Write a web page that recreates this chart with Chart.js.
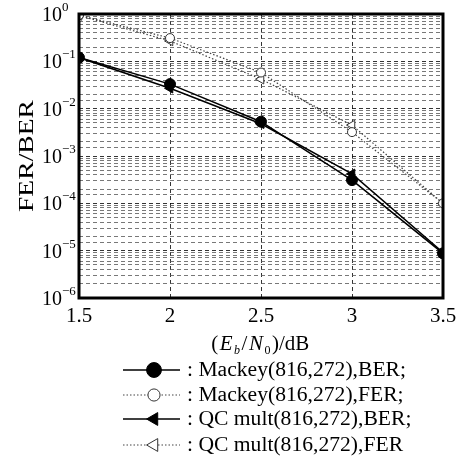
<!DOCTYPE html>
<html>
<head>
<meta charset="utf-8">
<script src="https://cdn.jsdelivr.net/npm/chart.js@4.4.0/dist/chart.umd.min.js"></script>
<style>
  html, body { margin: 0; padding: 0; background: #fff; }
  #wrap { width: 465px; height: 466px; }
</style>
</head>
<body>
<div id="wrap"><canvas id="mainChart" width="465" height="466"></canvas></div>
<script>
// Eb/N0 in dB
const snr = [1.5, 2, 2.5, 3, 3.5];
const mackeyBer = [0.12, 0.033, 0.0053, 0.00031, 0.0000088];
const mackeyFer = [0.95, 0.31, 0.058, 0.0032, 0.0001];
const qcBer = [0.12, 0.027, 0.0048, 0.00042, 0.0000092];
const qcFer = [0.93, 0.27, 0.042, 0.0045, 0.0001];
const seriesNames = [': Mackey(816,272),BER;', ': Mackey(816,272),FER;', ': QC mult(816,272),BER;', ': QC mult(816,272),FER'];
const xTicks = [1.5, 2, 2.5, 3, 3.5];
const yExponents = [0, -1, -2, -3, -4, -5, -6];

const serif = '"Liberation Serif", "DejaVu Serif", serif';

function pts(ys) {
    return snr.map((x, i) => ({x: x, y: ys[i]}));
}

const datasets = [
    {label: seriesNames[0], data: pts(mackeyBer), borderColor: '#000', borderWidth: 1.5,
        pointStyle: 'circle', pointRadius: 5.5, pointBackgroundColor: '#000', pointBorderColor: '#000', pointBorderWidth: 1},
    {label: seriesNames[1], data: pts(mackeyFer), borderColor: '#444', borderWidth: 1.2, borderDash: [1.5, 2],
        pointStyle: 'circle', pointRadius: 4.5, pointBackgroundColor: '#fff', pointBorderColor: '#333', pointBorderWidth: 1},
    {label: seriesNames[2], data: pts(qcBer), borderColor: '#000', borderWidth: 1.5,
        pointStyle: 'triangle', pointRotation: -90, pointRadius: 5.5, pointBackgroundColor: '#000', pointBorderColor: '#000', pointBorderWidth: 1},
    {label: seriesNames[3], data: pts(qcFer), borderColor: '#444', borderWidth: 1.2, borderDash: [1.5, 2],
        pointStyle: 'triangle', pointRotation: -90, pointRadius: 5.5, pointBackgroundColor: '#fff', pointBorderColor: '#333', pointBorderWidth: 1}
];

// text stretched along its baseline, like the scanned figure
function wideText(ctx, text, x, y, sx) {
    ctx.save();
    ctx.translate(x, y);
    ctx.scale(sx, 1);
    ctx.fillText(text, 0, 0);
    ctx.restore();
}

// frame, y labels with superscripts, axis titles and the legend
const decorations = {
    id: 'decorations',
    afterDraw(chart) {
        const ctx = chart.ctx;
        const a = chart.chartArea;
        const yScale = chart.scales.y;
        ctx.save();
        ctx.strokeStyle = '#000';
        ctx.lineWidth = 3;
        ctx.setLineDash([]);
        ctx.strokeRect(a.left, a.top, a.right - a.left, a.bottom - a.top);

        // y tick labels 10^n
        ctx.fillStyle = '#000';
        ctx.textBaseline = 'alphabetic';
        ctx.textAlign = 'left';
        yExponents.forEach(e => {
            const py = yScale.getPixelForValue(Math.pow(10, e));
            const exp = e === 0 ? '0' : '\u2212' + (-e);
            ctx.font = '20px ' + serif;
            ctx.fillText('10', 42, py + 7);
            ctx.font = '13px ' + serif;
            ctx.fillText(exp, 62, py - 3);
        });

        // y title
        ctx.save();
        ctx.translate(27, (a.top + a.bottom) / 2);
        ctx.rotate(-Math.PI / 2);
        ctx.font = '21px ' + serif;
        ctx.textBaseline = 'middle';
        const tw = ctx.measureText('FER/BER').width;
        const ts = 112 / tw;
        wideText(ctx, 'FER/BER', -tw * ts / 2, 0, ts);
        ctx.restore();

        // x title (E_b/N_0)/dB
        const parts = [
            ['(', '21px ' + serif, 0], ['E', 'italic 21px ' + serif, 0], ['b', 'italic 12px ' + serif, 4],
            ['/', '21px ' + serif, 0], ['N', 'italic 21px ' + serif, 0], ['0', '12px ' + serif, 4],
            [')/dB', '21px ' + serif, 0]
        ];
        let total = 0;
        parts.forEach(p => { ctx.font = p[1]; total += ctx.measureText(p[0]).width + 1.5; });
        let px = (a.left + a.right) / 2 - total / 2;
        const baseY = 350;
        ctx.textAlign = 'left';
        ctx.textBaseline = 'alphabetic';
        parts.forEach(p => {
            ctx.font = p[1];
            ctx.fillText(p[0], px, baseY + p[2]);
            px += ctx.measureText(p[0]).width + 1.5;
        });

        // legend
        const rowY = [370, 395, 419, 445];
        ctx.font = '20px ' + serif;
        const ls = 219 / ctx.measureText(seriesNames[0]).width;
        chart.data.datasets.forEach((ds, i) => {
            const y = rowY[i];
            ctx.save();
            ctx.strokeStyle = ds.borderColor;
            ctx.lineWidth = ds.borderWidth;
            ctx.setLineDash(ds.borderDash || []);
            ctx.beginPath();
            ctx.moveTo(123, y);
            ctx.lineTo(180, y);
            ctx.stroke();
            ctx.setLineDash([]);
            ctx.fillStyle = ds.pointBackgroundColor;
            ctx.strokeStyle = ds.pointBorderColor;
            ctx.lineWidth = ds.pointBorderWidth;
            Chart.helpers.drawPoint(ctx, {
                pointStyle: ds.pointStyle, rotation: ds.pointRotation || 0,
                radius: ds.pointRadius * 1.35, borderWidth: ds.pointBorderWidth
            }, 154, y);
            ctx.restore();
            ctx.fillStyle = '#000';
            ctx.font = '20px ' + serif;
            ctx.textBaseline = 'middle';
            wideText(ctx, ds.label, 187, y + 1, ls);
        });
        ctx.restore();
    }
};

new Chart(document.getElementById('mainChart'), {
    type: 'line',
    data: {datasets: datasets},
    options: {
        responsive: false,
        animation: false,
        layout: {padding: {left: 0, right: 22, top: 14, bottom: 130}},
        plugins: {legend: {display: false}, tooltip: {enabled: false}},
        scales: {
            x: {
                type: 'linear', min: 1.5, max: 3.5,
                afterBuildTicks: s => { s.ticks = xTicks.map(v => ({value: v})); },
                afterFit: s => { s.height = 38; },
                grid: {color: '#000', lineWidth: 0.8, drawTicks: false},
                border: {display: false, dash: [4, 3]},
                ticks: {color: '#000', padding: 6, font: {family: serif, size: 21},
                    callback: v => String(v)}
            },
            y: {
                type: 'logarithmic', min: 1e-6, max: 1,
                afterFit: s => { s.width = 79; },
                grid: {drawTicks: false, lineWidth: 0.8,
                    color: c => (c.tick && Math.abs(Math.log10(c.tick.value) - Math.round(Math.log10(c.tick.value))) < 1e-6) ? '#000' : '#555'},
                border: {display: false, dash: [4, 3]},
                ticks: {autoSkip: false, color: 'transparent', callback: () => ''}
            }
        }
    },
    plugins: [decorations]
});
</script>
</body>
</html>
